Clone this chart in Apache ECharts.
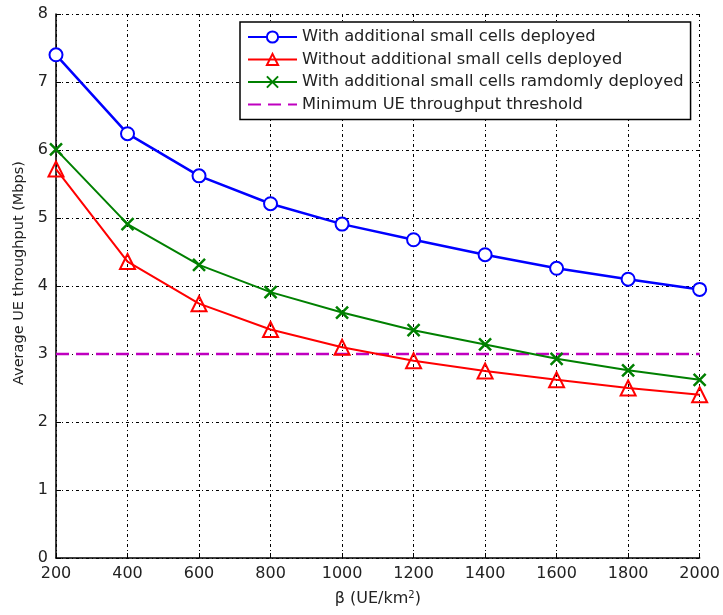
<!DOCTYPE html>
<html><head><meta charset="utf-8">
<script src="https://cdn.jsdelivr.net/npm/echarts@6/dist/echarts.min.js"></script>
<style>html,body{margin:0;padding:0;background:#fff}#c{width:723px;height:615px}</style>
</head><body><div id="c"></div>
<script>
const xValues = [200, 400, 600, 800, 1000, 1200, 1400, 1600, 1800, 2000];
const withSmallCells = [7.40, 6.24, 5.62, 5.21, 4.91, 4.68, 4.46, 4.26, 4.10, 3.95];
const withoutSmallCells = [5.72, 4.36, 3.74, 3.36, 3.10, 2.90, 2.75, 2.62, 2.50, 2.40];
const randomSmallCells = [6.01, 4.91, 4.31, 3.91, 3.61, 3.35, 3.14, 2.93, 2.76, 2.62];
const thresholdX = [200, 2000];
const thresholdY = [3, 3];
const seriesNames = [
  'With additional small cells deployed',
  'Without additional small cells deployed',
  'With additional small cells ramdomly deployed',
  'Minimum UE throughput threshold'
];
const pair = (xs, ys) => xs.map((x, i) => [x, ys[i]]);
const font = '"DejaVu Sans", sans-serif';
const txt = '#222';
const gridLine = { show: true, lineStyle: { color: '#000', width: 1, type: [3, 3, 1, 3] } };
const xMark = 'path://M0,0L10,10M10,0L0,10';

const chart = echarts.init(document.getElementById('c'), null, { renderer: 'canvas' });
chart.setOption({
  animation: false,
  backgroundColor: '#fff',
  textStyle: { fontFamily: font },
  grid: { left: 56, right: 22, top: 14, bottom: 57 },
  legend: {
    orient: 'vertical', left: 240, top: 22,
    backgroundColor: '#fff',
    borderColor: '#000', borderWidth: 1.5, borderRadius: 0,
    padding: [7, 7, 7, 7],
    itemGap: 6.5, itemWidth: 49, itemHeight: 14,
    textStyle: { fontFamily: font, fontSize: 16.3, color: txt },
    data: [
      { name: seriesNames[0] },
      { name: seriesNames[1] },
      { name: seriesNames[2] },
      { name: seriesNames[3], itemStyle: { opacity: 0 } }
    ]
  },
  xAxis: {
    type: 'value', min: 200, max: 2000, interval: 200,
    name: '{a|β (UE/km}{s|2}{a|)}', nameLocation: 'middle', nameGap: 32,
    nameTextStyle: { rich: {
      a: { fontFamily: font, fontSize: 16, color: txt },
      s: { fontFamily: font, fontSize: 10, color: txt, verticalAlign: 'top', padding: [0, 0, 8, 0] }
    } },
    axisLine: { lineStyle: { color: '#000', width: 1.5 } },
    axisTick: { inside: true, length: 5, lineStyle: { color: '#000' } },
    axisLabel: { fontFamily: font, fontSize: 16, color: txt, margin: 8, formatter: v => String(v) },
    splitLine: gridLine
  },
  yAxis: {
    type: 'value', min: 0, max: 8, interval: 1,
    name: 'Average UE throughput (Mbps)', nameLocation: 'middle', nameGap: 25,
    nameTextStyle: { fontFamily: font, fontSize: 14.5, color: txt, padding: [0, 0, 0, 26] },
    axisLine: { show: true, lineStyle: { color: '#000', width: 1.5 } },
    axisTick: { show: true, inside: true, length: 5, lineStyle: { color: '#000' } },
    axisLabel: { fontFamily: font, fontSize: 16, color: txt, margin: 8 },
    splitLine: gridLine
  },
  series: [
    {
      name: seriesNames[0], type: 'line', data: pair(xValues, withSmallCells),
      symbol: 'circle', symbolSize: 13, showAllSymbol: true,
      lineStyle: { color: '#0000ff', width: 2.5 },
      itemStyle: { color: '#fff', borderColor: '#0000ff', borderWidth: 2 },
      z: 5
    },
    {
      name: seriesNames[1], type: 'line', data: pair(xValues, withoutSmallCells),
      symbol: 'triangle', symbolSize: 15,
      lineStyle: { color: '#ff0000', width: 2 },
      itemStyle: { color: 'rgba(255,255,255,0)', borderColor: '#ff0000', borderWidth: 2 },
      z: 4
    },
    {
      name: seriesNames[2], type: 'line', data: pair(xValues, randomSmallCells),
      symbol: xMark, symbolSize: 12,
      lineStyle: { color: '#008000', width: 2 },
      itemStyle: { color: 'rgba(0,0,0,0)', borderColor: '#008000', borderWidth: 2.5 },
      z: 4
    },
    {
      name: seriesNames[3], type: 'line', data: pair(thresholdX, thresholdY),
      symbol: 'none',
      lineStyle: { color: '#bf00bf', width: 2.5, type: [13, 7] },
      itemStyle: { color: '#bf00bf' },
      z: 3
    }
  ]
});
</script></body></html>
